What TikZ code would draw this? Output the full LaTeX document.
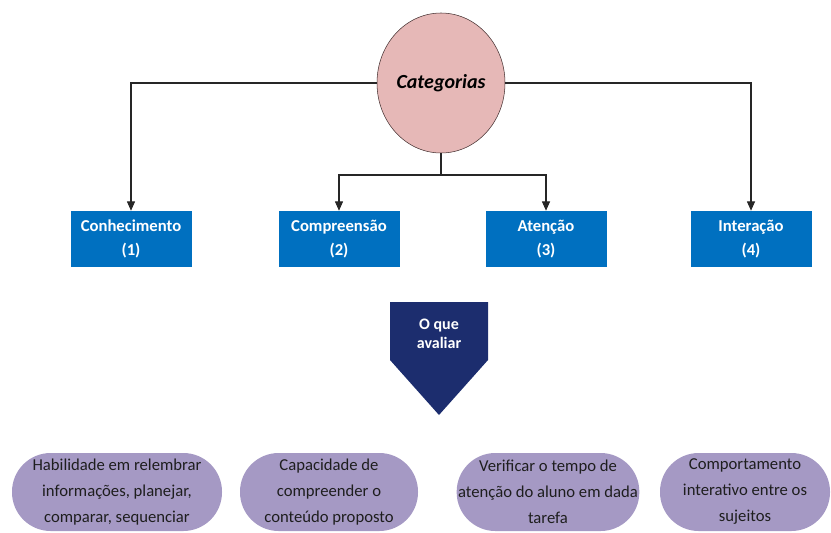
\documentclass[tikz,border=0pt]{standalone}
\usepackage{fontspec}
\setmainfont{Carlito}
\usepackage{tikz}
\usetikzlibrary{positioning,arrows.meta,shapes.geometric}
\definecolor{catfill}{RGB}{230,184,183}
\definecolor{catdraw}{RGB}{70,50,50}
\definecolor{boxcolor}{RGB}{0,112,192}
\definecolor{navycolor}{RGB}{28,45,110}
\definecolor{pillcolor}{RGB}{165,153,196}
\definecolor{pilltext}{RGB}{30,30,30}
\tikzset{
  cat node/.style={
    ellipse,
    draw=catdraw,
    fill=catfill,
    thin,
    minimum width=96pt,
    minimum height=105pt,
    inner sep=0pt,
    font=\fontsize{15}{17}\selectfont\bfseries\itshape
  },
  cat box/.style={
    rectangle,
    fill=boxcolor,
    text=white,
    minimum width=90.75pt,
    minimum height=42pt,
    inner sep=1pt,
    align=center,
    font=\fontsize{12.5}{18}\selectfont\bfseries
  },
  eval pill/.style={
    rectangle,
    rounded corners=29pt,
    fill=pillcolor,
    text=pilltext,
    minimum height=58.5pt,
    inner sep=1pt,
    align=center,
    font=\fontsize{12.5}{19.5}\selectfont
  },
  line/.style={
    draw=black!85,
    line width=0.8pt
  },
  arrow/.style={
    line,
    -{Triangle[length=7pt,width=6pt]}
  }
}
\begin{document}
\begin{tikzpicture}[x=0.75pt, y=-0.75pt]
  \useasboundingbox (0,0) rectangle (831,532);

  % Root
  \node[cat node] (cat) at (441,83) {Categorias};

  % Categories
  \node[cat box] (know) at (131,239) {Conhecimento\\(1)};
  \node[cat box] (comp) at (339,239) {Compreensão\\(2)};
  \node[cat box] (att)  at (546,239) {Atenção\\(3)};
  \node[cat box] (inter) at (751,239) {Interação\\(4)};

  % Connectors
  \coordinate (split) at (441,175);
  \draw[arrow] (cat.west) -| (know);
  \draw[arrow] (cat.east) -| (inter);
  \draw[line] (cat.south) -- (split);
  \draw[arrow] (split) -| (comp);
  \draw[arrow] (split) -| (att);

  % What to evaluate
  \fill[navycolor] (390,302) -- (488,302) -- (488,360) -- (439,415) -- (390,360) -- cycle;
  \node[align=center, text=white, font=\fontsize{12}{14}\selectfont\bfseries] (what) at (439,334) {O que\\avaliar};

  % Descriptions
  \node[eval pill, minimum width=157.5pt] (p1) at (117,492) {Habilidade em relembrar\\informações, planejar,\\comparar, sequenciar};
  \node[eval pill, minimum width=133.5pt] (p2) at (329,492) {Capacidade de\\compreender o\\conteúdo proposto};
  \node[eval pill, minimum width=137pt] (p3) at (548,492) {Verificar o tempo de\\atenção do aluno em dada\\tarefa};
  \node[eval pill, minimum width=127.5pt] (p4) at (745,492) {Comportamento\\interativo entre os\\sujeitos};

\end{tikzpicture}
\end{document}
